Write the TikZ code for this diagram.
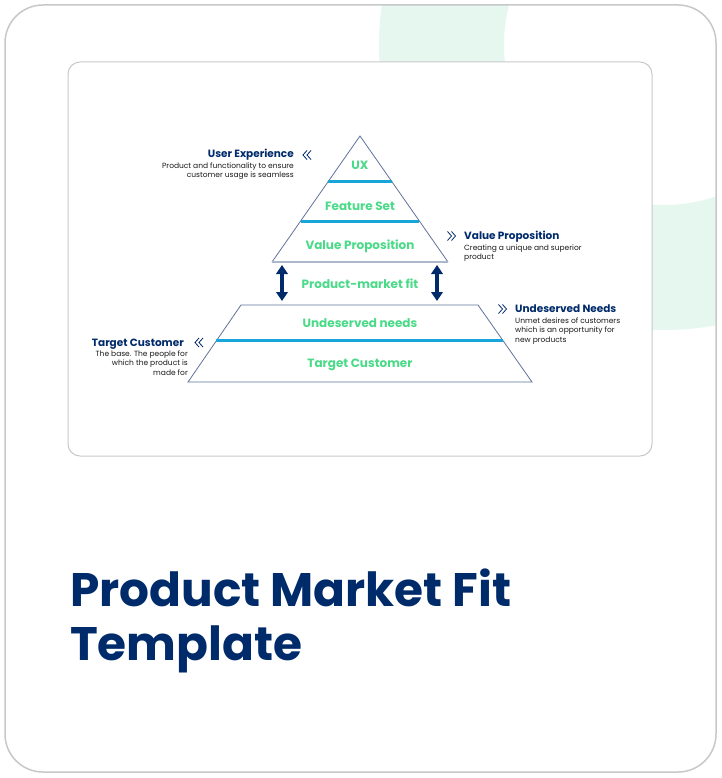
\documentclass[tikz,border=0pt]{standalone}
\usepackage{fontspec}
\setmainfont{Poppins}
\usetikzlibrary{arrows.meta,positioning,calc}
\definecolor{navy}{RGB}{0,43,107}
\definecolor{mint}{RGB}{74,218,136}
\definecolor{barblue}{RGB}{24,165,218}
\definecolor{edgegray}{RGB}{95,115,155}
\definecolor{basegray}{RGB}{172,184,202}
\definecolor{cardgray}{RGB}{200,200,200}
\definecolor{ringmint}{RGB}{230,247,240}
\definecolor{desctext}{RGB}{25,25,25}

% double chevrons, centred at (#1,#2)
\newcommand{\chevleft}[2]{\draw[chev] (#1+1,#2-4.5) -- (#1-3,#2) -- (#1+1,#2+4.5)
  (#1+5,#2-4.5) -- (#1+1,#2) -- (#1+5,#2+4.5);}
\newcommand{\chevright}[2]{\draw[chev] (#1-5,#2-4.5) -- (#1-1,#2) -- (#1-5,#2+4.5)
  (#1-1,#2-4.5) -- (#1+3,#2) -- (#1-1,#2+4.5);}

\begin{document}
\begin{tikzpicture}[x=1pt,y=-1pt,
    layer/.style={font=\fontsize{12}{14}\selectfont\bfseries, text=mint, inner sep=0pt},
    headlbl/.style={font=\fontsize{10.5}{12}\selectfont\bfseries, text=navy, inner sep=0pt},
    desclbl/.style={font=\fontsize{7.5}{9.5}\selectfont, text=desctext, inner sep=0pt},
    side/.style={edgegray, line width=0.8pt},
    bar/.style={barblue, line width=3pt},
    fitarrow/.style={navy, line width=3.6pt,
      {Triangle[width=11.5pt,length=9pt]}-{Triangle[width=11.5pt,length=9pt]}},
    chev/.style={navy, line width=0.8pt}]
    \useasboundingbox (0,0) rectangle (721,778);
    \fill[white] (0,0) rectangle (721,778);

    % background ring, seen only outside the inner card
    \begin{scope}
        \clip[rounded corners=38pt] (5,5) rectangle (716,772);
        \fill[ringmint, even odd rule] (664,45) circle[radius=285] (664,45) circle[radius=160];
    \end{scope}
    \draw[cardgray, line width=1.5pt, rounded corners=38pt] (5,5) rectangle (716,772);
    \draw[cardgray, fill=white, line width=1pt, rounded corners=12pt] (68,62) rectangle (652,456);

    % upper pyramid
    \coordinate (apex) at (360,136);
    \coordinate (tbl) at (272,262);
    \coordinate (tbr) at (448,262);
    \draw[side] (tbl) -- (apex) -- (tbr);
    \draw[basegray, line width=2pt] (tbl) -- (tbr);
    \draw[bar] ($(apex)!0.365!(tbl)$) -- ($(apex)!0.365!(tbr)$);
    \draw[bar] ($(apex)!0.675!(tbl)$) -- ($(apex)!0.675!(tbr)$);
    \node[layer, anchor=base] (ux) at (360,170) {UX};
    \node[layer, anchor=base] (feat) at (360,210.5) {Feature Set};
    \node[layer, anchor=base] (valprop) at (360,249.3) {Value Proposition};

    % lower trapezoid
    \coordinate (btl) at (241,305);
    \coordinate (btr) at (478,305);
    \coordinate (bbl) at (188,382);
    \coordinate (bbr) at (532,382);
    \draw[side] (btl) -- (btr) -- (bbr) -- (bbl) -- cycle;
    \draw[bar] ($(btl)!0.464!(bbl)$) -- ($(btr)!0.464!(bbr)$);
    \node[layer, anchor=base] (needs) at (360,327.7) {Undeserved needs};
    \node[layer, anchor=base] (target) at (360,367.7) {Target Customer};

    % product-market fit
    \node[layer, anchor=base] (pmf) at (360,288.3) {Product-market fit};
    \coordinate (la) at (282,265);
    \coordinate (lb) at (282,301);
    \coordinate (ra) at (437,265);
    \coordinate (rb) at (437,301);
    \draw[fitarrow] (la) -- (lb);
    \draw[fitarrow] (ra) -- (rb);

    % side notes
    \chevleft{306}{155}
    \node[headlbl, anchor=base east] (uxhead) at (294,158) {User Experience};
    \node[desclbl, anchor=north east, align=right] (uxdesc) at (294,162.5)
      {Product and functionality to ensure\\customer usage is seamless};

    \chevright{452.5}{236}
    \node[headlbl, anchor=base west] (vphead) at (464,239) {Value Proposition};
    \node[desclbl, anchor=north west, align=left] (vpdesc) at (464,244.5)
      {Creating a unique and superior\\product};

    \chevright{503.5}{309}
    \node[headlbl, anchor=base west] (unhead) at (515,312.7) {Undeserved Needs};
    \node[desclbl, anchor=north west, align=left] (undesc) at (515,317.5)
      {Unmet desires of customers\\which is an opportunity for\\new products};

    \chevleft{198}{342.5}
    \node[headlbl, anchor=base east] (tchead) at (184,346) {Target Customer};
    \node[desclbl, anchor=north east, align=right] (tcdesc) at (188,350.5)
      {The base. The people for\\which the product is\\made for};

    % title
    \node[font=\fontsize{47}{54}\selectfont\bfseries, text=navy, anchor=base west, inner sep=0pt]
      (title1) at (70,606) {Product Market Fit};
    \node[font=\fontsize{47}{54}\selectfont\bfseries, text=navy, anchor=base west, inner sep=0pt]
      (title2) at (70,660) {Template};
\end{tikzpicture}
\end{document}
